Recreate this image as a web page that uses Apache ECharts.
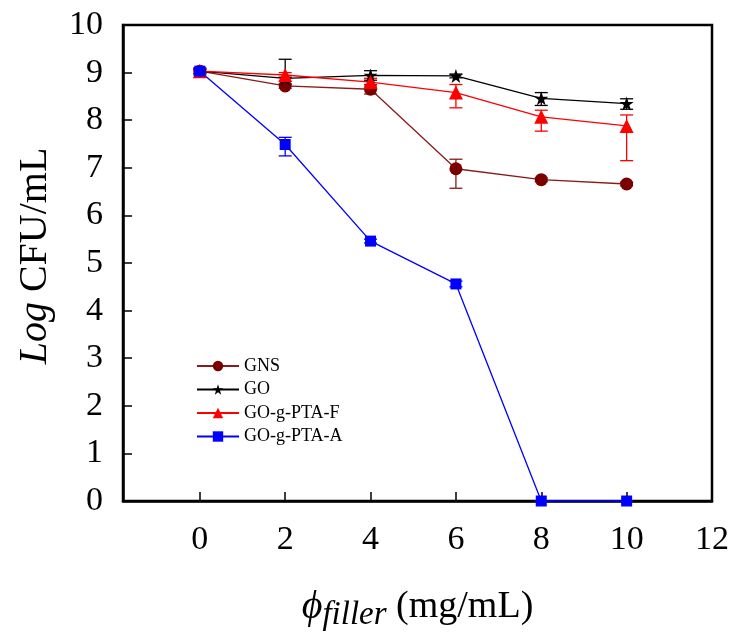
<!DOCTYPE html>
<html>
<head>
<meta charset="utf-8">
<script src="https://cdn.jsdelivr.net/npm/echarts@6/dist/echarts.min.js"></script>
<style>html,body{margin:0;padding:0;background:#fff}#c{width:732px;height:637px}</style>
</head>
<body>
<div id="c"></div>
<script>
// ---- data ----
const xValues = [0, 2, 4, 6, 8, 10];
const xTickLabels = [0, 2, 4, 6, 8, 10, 12];
const xTickMarks = [0, 2, 4, 6, 8, 10];
const seriesNames = ['GNS', 'GO', 'GO-g-PTA-F', 'GO-g-PTA-A'];

const gnsValues = [9.03, 8.72, 8.65, 6.98, 6.75, 6.66];
const gnsLow    = [8.98, 8.67, 8.55, 6.57, 6.71, 6.62];
const gnsHigh   = [9.08, 8.77, 8.75, 7.18, 6.79, 6.70];

const goValues = [9.03, 8.88, 8.94, 8.93, 8.46, 8.35];
const goLow    = [8.98, 8.75, 8.84, 8.89, 8.31, 8.23];
const goHigh   = [9.08, 9.28, 9.04, 8.97, 8.58, 8.45];

const ptafValues = [9.03, 8.95, 8.80, 8.58, 8.07, 7.88];
const ptafLow    = [8.98, 8.90, 8.72, 8.26, 7.77, 7.15];
const ptafHigh   = [9.08, 9.00, 8.88, 8.75, 8.21, 8.11];

const ptaaValues = [9.03, 7.49, 5.46, 4.56, 0, 0];
const ptaaLow    = [8.95, 7.25, 5.42, 4.50, 0, 0];
const ptaaHigh   = [9.10, 7.64, 5.50, 4.62, 0, 0];

// ---- chart ----
const FONT = "'Liberation Serif','Times New Roman',serif";
const STAR = 'path://M50,0 L61.8,35.3 L98.9,35.3 L68.9,57.1 L80.3,92.4 L50,70.6 L19.7,92.4 L31.1,57.1 L1.1,35.3 L38.2,35.3 Z';

const styles = [
  {name: seriesNames[0], vals: gnsValues, lo: gnsLow, hi: gnsHigh, line: '#8b1a1a', mark: '#7a0000', symbol: 'circle', size: 13},
  {name: seriesNames[1], vals: goValues, lo: goLow, hi: goHigh, line: '#000000', mark: '#000000', symbol: STAR, size: 14},
  {name: seriesNames[2], vals: ptafValues, lo: ptafLow, hi: ptafHigh, line: '#ff0000', mark: '#ff0000', symbol: 'triangle', size: 14},
  {name: seriesNames[3], vals: ptaaValues, lo: ptaaLow, hi: ptaaHigh, line: '#0000ff', mark: '#0000ff', symbol: 'rect', size: 11}
];

function errRender(color) {
  return function (params, api) {
    const x = api.value(0), lo = api.value(1), hi = api.value(2);
    const pt = api.coord([x, hi]);
    const pb = api.coord([x, lo]);
    const w = 6.5;
    const st = {stroke: color, lineWidth: 1.3};
    return {
      type: 'group',
      children: [
        {type: 'line', shape: {x1: pt[0], y1: pt[1], x2: pb[0], y2: pb[1]}, style: st},
        {type: 'line', shape: {x1: pt[0] - w, y1: pt[1], x2: pt[0] + w, y2: pt[1]}, style: st},
        {type: 'line', shape: {x1: pb[0] - w, y1: pb[1], x2: pb[0] + w, y2: pb[1]}, style: st}
      ]
    };
  };
}

const series = [];
styles.forEach(function (s) {
  series.push({
    type: 'custom',
    name: s.name + '-err',
    renderItem: errRender(s.line),
    data: xValues.map(function (x, i) { return [x, s.lo[i], s.hi[i]]; }),
    z: 1,
    silent: true
  });
});
styles.forEach(function (s) {
  series.push({
    type: 'line',
    name: s.name,
    data: xValues.map(function (x, i) { return [x, s.vals[i]]; }),
    symbol: s.symbol,
    symbolSize: s.size,
    showAllSymbol: true,
    clip: false,
    lineStyle: {color: s.line, width: 1.3},
    itemStyle: {color: s.mark, borderWidth: 0},
    z: 3
  });
});

const chart = echarts.init(document.getElementById('c'), null, {renderer: 'canvas'});
chart.setOption({
  animation: false,
  backgroundColor: '#fff',
  grid: {left: 123, top: 25, right: 20, bottom: 136, show: true, borderColor: '#000', borderWidth: 2.5, backgroundColor: 'transparent'},
  legend: {
    data: seriesNames,
    orient: 'vertical',
    left: 191,
    top: 352,
    itemWidth: 42,
    itemHeight: 13,
    itemGap: 5.5,
    textStyle: {fontFamily: FONT, fontSize: 18, color: '#000'}
  },
  xAxis: {
    type: 'value',
    min: -1.8,
    max: 12,
    axisLine: {onZero: false, lineStyle: {color: '#000', width: 2.5}},
    axisTick: {inside: true, length: 9, lineStyle: {color: '#000', width: 1.5}, customValues: xTickMarks},
    axisLabel: {customValues: xTickLabels, margin: 22, fontFamily: FONT, fontSize: 34, color: '#000'},
    splitLine: {show: false},
    name: '{p|ϕ}{s|filler}{n| (mg/mL)}',
    nameLocation: 'middle',
    nameGap: 82,
    nameTextStyle: {
      fontFamily: FONT,
      fontSize: 38,
      color: '#000',
      rich: {
        p: {fontFamily: FONT, fontSize: 40, fontStyle: 'italic', color: '#000'},
        s: {fontFamily: FONT, fontSize: 33, fontStyle: 'italic', color: '#000', padding: [16, 0, 0, 0], verticalAlign: 'bottom'},
        n: {fontFamily: FONT, fontSize: 38, color: '#000'}
      }
    }
  },
  yAxis: {
    type: 'value',
    min: 0,
    max: 10,
    interval: 1,
    axisLine: {show: true, onZero: false, lineStyle: {color: '#000', width: 2.5}},
    axisTick: {show: true, inside: true, length: 9, lineStyle: {color: '#000', width: 1.5}},
    axisLabel: {margin: 20, fontFamily: FONT, fontSize: 34, color: '#000'},
    splitLine: {show: false},
    name: '{i|Log} CFU/mL',
    nameLocation: 'middle',
    nameGap: 68,
    nameTextStyle: {
      fontFamily: FONT,
      fontSize: 40,
      color: '#000',
      padding: [0, 0, 0, 14],
      rich: {
        i: {fontFamily: FONT, fontSize: 40, fontStyle: 'italic', color: '#000'}
      }
    }
  },
  series: series
});
</script>
</body>
</html>
